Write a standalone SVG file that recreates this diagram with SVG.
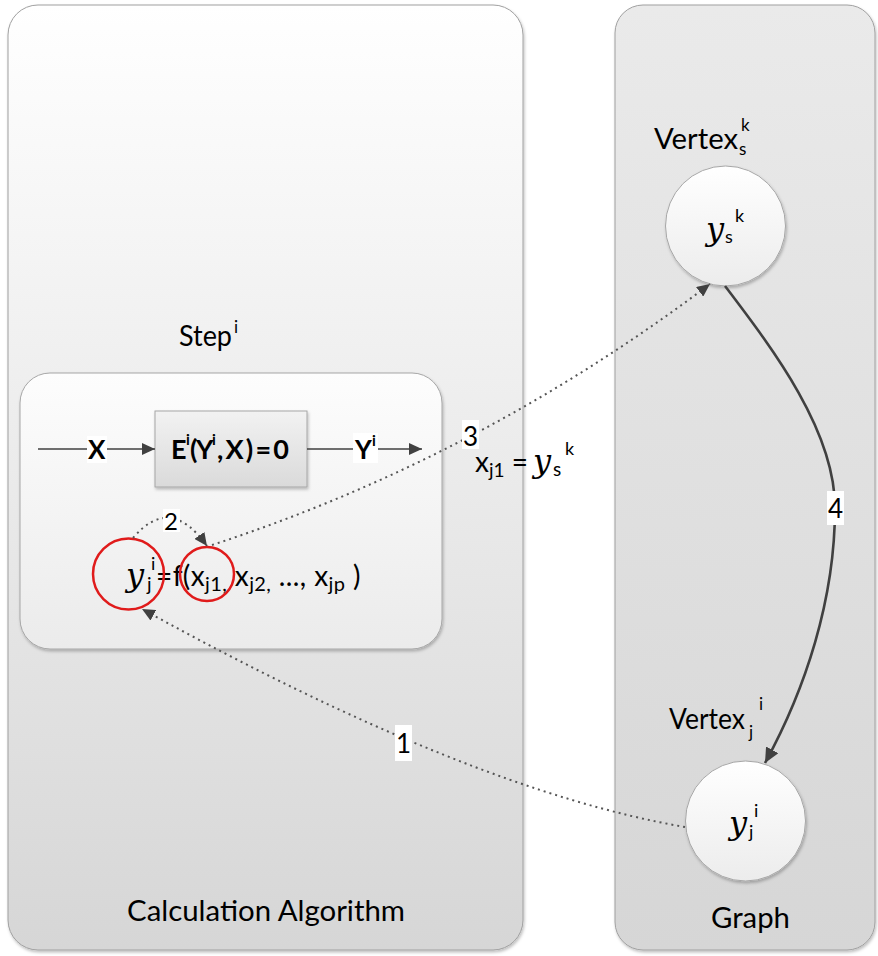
<svg xmlns="http://www.w3.org/2000/svg" width="878" height="956" viewBox="0 0 878 956">
<defs>
  <linearGradient id="gLeft" x1="0" y1="0" x2="0" y2="1">
    <stop offset="0" stop-color="#ffffff"/>
    <stop offset="1" stop-color="#d6d6d6"/>
  </linearGradient>
  <linearGradient id="gRight" x1="0" y1="0" x2="0" y2="1">
    <stop offset="0" stop-color="#eaeaea"/>
    <stop offset="1" stop-color="#d6d6d6"/>
  </linearGradient>
  <linearGradient id="gStep" x1="0" y1="0" x2="0" y2="1">
    <stop offset="0" stop-color="#fdfdfd"/>
    <stop offset="1" stop-color="#ebebeb"/>
  </linearGradient>
  <linearGradient id="gE" x1="0" y1="0" x2="0" y2="1">
    <stop offset="0" stop-color="#f2f2f2"/>
    <stop offset="1" stop-color="#dadada"/>
  </linearGradient>
  <linearGradient id="gNode" x1="0" y1="0" x2="0" y2="1">
    <stop offset="0" stop-color="#ffffff"/>
    <stop offset="1" stop-color="#ececec"/>
  </linearGradient>
  <filter id="shadow" x="-10%" y="-10%" width="120%" height="120%">
    <feDropShadow dx="1" dy="2" stdDeviation="1.5" flood-color="#000" flood-opacity="0.25"/>
  </filter>
  <marker id="arr" markerUnits="userSpaceOnUse" markerWidth="14" markerHeight="12" refX="13" refY="6" orient="auto">
    <path d="M0,0 L13,6 L0,12 z" fill="#404040"/>
  </marker>
  <marker id="arrBig" markerUnits="userSpaceOnUse" markerWidth="16" markerHeight="14" refX="15" refY="7" orient="auto">
    <path d="M0,0 L15,7 L0,14 z" fill="#404040"/>
  </marker>
</defs>
<style>
  .panel { stroke: #a0a0a0; stroke-width: 1; }
  .t { font-family: Lato, "Open Sans", "Liberation Sans", sans-serif; fill: #000; }
  .b { font-weight: bold; }
  .sc { font-family: "DejaVu Serif", "Liberation Serif", serif; font-style: italic; fill: #000; }
  .solid { fill: none; stroke: #404040; stroke-width: 1.6; }
  .thick { fill: none; stroke: #404040; stroke-width: 2.6; }
  .dot { fill: none; stroke: #555; stroke-width: 2; stroke-dasharray: 2 4; }
  .lbl { fill: #ffffff; }
  .red { fill: none; stroke: #e01b1b; stroke-width: 2.5; }
  .node { fill: url(#gNode); stroke: #a6a6a6; stroke-width: 1; }
</style>

<g id="calc-algorithm">
  <rect class="panel" x="8" y="5" width="515" height="945" rx="30" fill="url(#gLeft)" filter="url(#shadow)"/>
  <text class="t" x="127" y="921" font-size="28" textLength="278" lengthAdjust="spacingAndGlyphs">Calculation Algorithm</text>
</g>

<g id="graph">
  <rect class="panel" x="615" y="5" width="260" height="945" rx="28" fill="url(#gRight)" filter="url(#shadow)"/>
  <text class="t" x="711" y="928" font-size="29" textLength="79" lengthAdjust="spacingAndGlyphs">Graph</text>
</g>

<g id="step">
  <rect x="20" y="373" width="422" height="276" rx="30" fill="url(#gStep)" stroke="#a6a6a6" stroke-width="1" filter="url(#shadow)"/>
  <text class="t" x="179" y="346" font-size="28" textLength="53" lengthAdjust="spacingAndGlyphs">Step</text>
  <text class="t" x="234" y="333" font-size="17">i</text>
</g>

<g id="equation">
  <rect x="155" y="411" width="152" height="76" fill="url(#gE)" stroke="#a6a6a6" stroke-width="1" filter="url(#shadow)"/>
  <text class="t b" x="171" y="459" font-size="27">E</text>
  <text class="t b" x="186" y="445" font-size="15">i</text>
  <text class="t b" x="190" y="459" font-size="27">(</text>
  <text class="t b" x="196" y="459" font-size="27">Y</text>
  <text class="t b" x="212" y="445" font-size="15">i</text>
  <text class="t b" x="217" y="459" font-size="27" textLength="72" lengthAdjust="spacing">,X)=0</text>
</g>

<g id="vertex-s">
  <circle class="node" cx="725.5" cy="226" r="60" filter="url(#shadow)"/>
  <text class="t" x="654" y="149" font-size="29" textLength="84" lengthAdjust="spacingAndGlyphs">Vertex</text>
  <text class="t" x="739" y="155" font-size="17">s</text>
  <text class="t" x="741" y="131" font-size="17">k</text>
  <text class="sc" x="706" y="240" font-size="32">y</text>
  <text class="t" x="725" y="243" font-size="18">s</text>
  <text class="t" x="735" y="222" font-size="18">k</text>
</g>

<g id="vertex-j">
  <circle class="node" cx="745.5" cy="821" r="60" filter="url(#shadow)"/>
  <text class="t" x="669" y="729" font-size="29" textLength="76" lengthAdjust="spacingAndGlyphs">Vertex</text>
  <text class="t" x="749" y="738" font-size="17">j</text>
  <text class="t" x="759" y="710" font-size="17">i</text>
  <text class="sc" x="729" y="834" font-size="32">y</text>
  <text class="t" x="749" y="838" font-size="18">j</text>
  <text class="t" x="754" y="817" font-size="18">i</text>
</g>

<g id="formula">
  <text class="sc" x="126" y="586" font-size="32">y</text>
  <text class="t" x="147" y="591" font-size="19">j</text>
  <text class="t" x="151" y="570" font-size="18">i</text>
  <text class="t" x="156" y="586" font-size="28" letter-spacing="0.4">=f(x<tspan font-size="20" dy="5">j1,</tspan><tspan dy="-5"> x</tspan><tspan font-size="20" dy="5">j2,</tspan><tspan dy="-5"> ..., x</tspan><tspan font-size="20" dy="5">jp</tspan><tspan dy="-5"> )</tspan></text>
  <circle class="red" cx="128.5" cy="574" r="35.5"/>
  <circle class="red" cx="207" cy="574" r="27"/>
</g>

<g id="assignment">
  <text class="t" x="475" y="472" font-size="28">x<tspan font-size="19" dy="5">j1</tspan><tspan dy="-5"> =</tspan></text>
  <text class="sc" x="533" y="472" font-size="32">y</text>
  <text class="t" x="553" y="476" font-size="19">s</text>
  <text class="t" x="565" y="455" font-size="18">k</text>
</g>

<g id="connectors">
  <!-- X -> E -> Y -->
  <line class="solid" x1="38" y1="449" x2="155" y2="449" marker-end="url(#arr)"/>
  <rect class="lbl" x="87" y="436" width="20" height="27"/>
  <text class="t b" x="88" y="459" font-size="26">X</text>
  <line class="solid" x1="307" y1="449" x2="422" y2="449" marker-end="url(#arr)"/>
  <rect class="lbl" x="353" y="433" width="25" height="30"/>
  <text class="t b" x="355" y="459" font-size="26">Y</text>
  <text class="t b" x="372" y="446" font-size="15">i</text>

  <!-- 1 -->
  <path class="dot" d="M685,827 Q470,790 142,609" marker-end="url(#arr)"/>
  <rect class="lbl" x="395" y="725" width="17" height="36"/>
  <text class="t" x="396" y="753" font-size="26">1</text>

  <!-- 2 -->
  <path class="dot" d="M133,538 Q170,494 207,546" marker-end="url(#arr)"/>
  <rect class="lbl" x="163" y="509" width="17" height="23"/>
  <text class="t" x="164" y="530" font-size="24">2</text>

  <!-- 3 -->
  <path class="dot" d="M212,545 Q479,458 710,284" marker-end="url(#arr)"/>
  <rect class="lbl" x="462" y="420" width="17" height="29"/>
  <text class="t" x="463" y="446" font-size="26">3</text>

  <!-- 4 -->
  <path class="thick" d="M725,286 C772,348 835,430 835,508 C835,600 805,690 765,763" marker-end="url(#arrBig)"/>
  <rect class="lbl" x="827" y="491" width="17" height="34"/>
  <text class="t" x="828" y="518" font-size="26">4</text>
</g>
</svg>
